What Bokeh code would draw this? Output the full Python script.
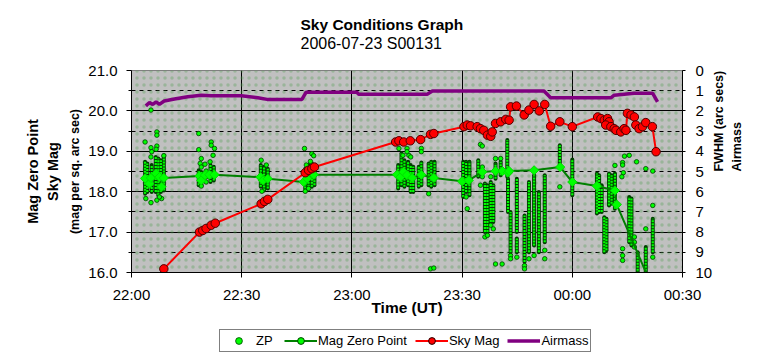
import numpy as np
from bokeh.plotting import figure
from bokeh.layouts import column
from bokeh.models import (Range1d, LinearAxis, FixedTicker, Legend, LegendItem, Label,
                          BoxAnnotation, NumeralTickFormatter)
from bokeh.embed import file_html
from bokeh.resources import INLINE

# ---- axis tick definitions (minutes after 22:00 UT) ----
TIME_TICKS = [0, 30, 60, 90, 120, 150]
TIME_LABELS = ["22:00", "22:30", "23:00", "23:30", "00:00", "00:30"]
LEFT_TICKS = [16, 17, 18, 19, 20, 21]
RIGHT_TICKS = [0, 1, 2, 3, 4, 5, 6, 7, 8, 9, 10]

# ---- ZP: isolated points (minutes after 22:00, mag) ----
ZP_T = [3.7, 5.3, 5.3, 5.5, 5.3, 6.9, 6.9, 6.9, 6.7, 8.8, 3.9, 5.3, 6.9, 8.2, 7.6,
        18.3, 18.3, 19.0, 18.7, 19.0, 19.0, 21.7, 21.7, 22.6, 22.2, 20.0, 20.3, 20.3, 21.4, 20.3,
        35.3, 36.7, 35.5,
        47.1, 49.1, 49.6, 47.6, 48.7, 47.3, 48.2,
        72.8, 73.9, 75.5, 75.0, 75.0, 76.0, 78.9, 78.9, 80.9, 81.4, 82.3,
        91.1, 91.4, 95.0, 95.5, 95.0, 95.5, 95.5, 95.5, 96.2, 96.9, 97.8, 97.8, 98.5, 99.1, 100.5,
        99.1, 100.9, 103.2, 103.2, 104.9, 107.0, 107.0, 108.2, 109.6,
        112.5, 112.5, 116.6, 131.6, 133.7, 133.7, 133.9, 133.5, 133.7, 133.7, 133.7, 135.5,
        136.9, 136.9, 136.9, 140.0, 140.0, 141.9, 141.9, 141.9, 137.5, 134.2]
ZP_V = [19.23, 20.02, 19.09, 18.99, 18.86, 19.48, 19.40, 19.13, 19.05, 18.89, 17.83, 17.73, 17.79, 17.83, 17.87,
        19.44, 19.04, 18.82, 18.70, 18.61, 18.14, 19.23, 19.15, 19.07, 18.90, 18.68, 18.51, 18.24, 18.74, 18.37,
        18.78, 18.66, 18.01,
        19.07, 18.94, 18.89, 18.66, 18.75, 18.01, 18.08,
        19.07, 18.90, 18.90, 19.07, 18.99, 18.86, 19.07, 18.99, 17.95, 16.09, 16.11,
        17.87, 17.58, 19.17, 19.13, 18.16, 18.61, 18.49, 18.37, 16.88, 16.92, 18.37, 17.17, 17.08, 18.82, 18.82,
        16.21, 16.21, 16.42, 16.34, 16.38, 16.17, 16.09, 16.34, 16.42,
        16.55, 16.34, 18.12, 18.65, 18.72, 18.66, 18.47, 18.37, 16.59, 16.42, 16.30, 18.90,
        16.88, 16.75, 16.63, 18.57, 17.08, 18.51, 17.66, 16.38, 18.74, 18.88]

# ---- ZP: dense vertical runs of points (time, lowest, highest) ----
ZP_RUN_T = [3.7, 4.3, 5.5, 6.6, 7.3, 8.0, 8.8,
            18.3, 19.0, 21.5, 22.4,
            35.2, 36.1, 37.1,
            47.3, 48.2, 49.1, 49.8,
            72.6, 73.5, 74.3, 75.3, 76.0, 76.7, 78.2, 78.9, 80.9, 81.6, 82.5,
            90.3, 91.1, 92.0,
            94.4, 96.2, 96.9, 97.8, 98.5, 99.1, 100.5, 102.3, 102.5, 103.2, 104.9, 104.9, 107.0, 108.2, 109.6, 110.9, 112.5,
            116.6, 120.0, 126.7, 127.3, 128.0, 128.7, 129.3, 130.0, 130.7, 131.6, 135.5, 136.1, 137.8, 140.0, 141.9]
ZP_RUN_LO = [17.95, 17.99, 17.99, 17.99, 17.91, 17.99, 18.03,
             18.16, 18.16, 18.24, 18.28,
             18.12, 18.03, 18.08,
             18.08, 18.12, 18.12, 18.16,
             18.08, 18.16, 18.12, 18.16, 17.99, 17.99, 18.12, 18.16, 18.16, 18.12, 18.16,
             17.87, 17.99, 17.91,
             18.37, 17.00, 17.00, 17.25, 17.25, 18.32, 18.41, 18.37, 17.50, 16.50, 17.00, 16.50, 16.26, 16.50, 16.67, 16.50, 16.75,
             18.66, 17.91, 17.46, 17.50, 17.50, 16.50, 16.55, 17.66, 17.70, 17.58, 16.75, 16.67, 15.97, 15.97, 16.50]
ZP_RUN_HI = [18.74, 18.70, 18.66, 18.86, 18.82, 18.78, 18.90,
             18.53, 18.49, 18.66, 18.62,
             18.66, 18.62, 18.57,
             18.57, 18.66, 18.70, 18.62,
             18.66, 18.95, 18.78, 18.74, 18.66, 18.62, 18.62, 18.72, 18.70, 18.74, 18.74,
             18.74, 18.74, 18.74,
             18.78, 18.20, 18.16, 18.24, 18.16, 18.70, 18.74, 19.28, 18.32, 17.50, 18.32, 16.84, 17.41, 18.24, 18.41, 17.99, 18.41,
             19.15, 18.80, 18.45, 18.41, 18.16, 17.37, 17.33, 18.45, 18.41, 18.45, 17.87, 17.83, 16.50, 16.63, 17.33]

# ---- Mag Zero Point ----
MZP_T = [3.7, 4.9, 5.3, 6.7, 7.6, 8.2, 8.8, 18.5, 19.0, 20.0, 21.2, 22.6, 35.1, 35.8, 37.1,
         46.9, 47.8, 49.6, 72.3, 73.2, 74.0, 75.0, 76.4, 78.9, 82.3, 90.0, 91.8, 95.5,
         99.1, 101.0, 102.5, 102.8, 109.6, 116.7, 120.0, 126.7, 131.6, 132.1, 141.0]
MZP_V = [18.33, 18.20, 18.34, 18.45, 18.36, 18.12, 18.34, 18.39, 18.28, 18.41, 18.42, 18.42, 18.36, 18.28, 18.32,
         18.24, 18.33, 18.42, 18.42, 18.36, 18.49, 18.41, 18.34, 18.42, 18.34, 18.26, 18.28, 18.49,
         18.51, 18.51, 18.47, 18.51, 18.53, 18.61, 18.24, 18.14, 18.03, 17.68, 15.80]

# ---- Sky Mag ----
SKY_T = [7.5, 8.8, 18.5, 19.4, 20.3, 21.7, 22.8, 35.3, 36.2, 37.1, 47.3, 48.2, 49.1, 49.8,
         71.9, 72.8, 74.1, 75.9, 78.7, 81.4, 82.3, 90.5, 91.4, 92.3, 94.1, 95.0, 95.9, 96.9, 97.8, 98.2,
         99.1, 100.5, 101.9, 102.8, 103.2, 104.8, 106.9, 108.2, 109.6, 111.0, 112.5, 114.1, 116.6, 120.0,
         126.9, 127.8, 128.7, 129.6, 130.0, 129.1, 130.5, 131.4, 131.9, 133.2, 134.1, 134.6,
         135.0, 136.0, 136.9, 137.3, 138.2, 139.1, 140.0, 141.8, 142.8]
SKY_V = [15.80, 16.09, 17.00, 17.04, 17.09, 17.17, 17.22, 17.70, 17.76, 17.81, 18.47, 18.53, 18.57, 18.61,
         19.23, 19.26, 19.23, 19.26, 19.29, 19.42, 19.44, 19.61, 19.65, 19.63, 19.61, 19.56, 19.52, 19.40, 19.37, 19.48,
         19.69, 19.73, 19.79, 19.77, 20.10, 20.12, 19.90, 20.02, 20.16, 20.00, 20.16, 19.62, 19.73, 19.61,
         19.85, 19.81, 19.77, 19.81, 19.73, 19.65, 19.61, 19.56, 19.52, 19.48, 19.56, 19.52,
         19.94, 19.90, 19.85, 19.65, 19.56, 19.61, 19.71, 19.61, 18.99]

# ---- Airmass (right axis) ----
AIR_T = [3.9, 4.9, 5.8, 6.7, 7.6, 8.9, 11.7, 15.3, 19.0, 21.7, 29.9, 34.4, 36.9, 46.4, 47.5,
         61.4, 61.8, 80.5, 81.9, 101.4, 112.3, 114.1, 130.5, 131.4, 136.8, 141.9, 143.2]
AIR_V = [1.75, 1.58, 1.68, 1.55, 1.68, 1.51, 1.41, 1.30, 1.22, 1.25, 1.25, 1.35, 1.43, 1.43, 1.08,
         1.08, 1.17, 1.17, 1.02, 1.02, 1.02, 1.35, 1.35, 1.22, 1.13, 1.13, 1.55]

FONT = "Liberation Sans"

# ---- title strip: its frame lines up with the chart's frame (pixel ranges) ----
tt = figure(width=763, height=60, output_backend="svg", toolbar_location=None, title=None,
            x_range=Range1d(0, 551), y_range=Range1d(0, 60),
            x_axis_location=None, y_axis_location=None, min_border=0,
            outline_line_color=None, background_fill_color="white", border_fill_color="white")
tt.grid.visible = False
tt.add_layout(Label(x=169, y=36, text="Sky Conditions Graph", text_align="left",
                    text_baseline="middle", text_font=FONT, text_font_size="15.5px",
                    text_font_style="bold", text_color="black"))
tt.add_layout(Label(x=169, y=17.5, text="2006-07-23 S00131", text_align="left",
                    text_baseline="middle", text_font=FONT, text_font_size="16px",
                    text_font_style="normal", text_color="black"))

p = figure(width=763, height=262, x_range=Range1d(0, 150), y_range=Range1d(16, 21),
           output_backend="svg", toolbar_location=None, title=None,
           min_border_left=131, min_border_right=81, min_border_top=10, min_border_bottom=50,
           background_fill_color="#C0C0C0", border_fill_color="white",
           outline_line_color="#808080")

# speckled plot area
p.add_layout(BoxAnnotation(left=0, right=150, bottom=16, top=21, fill_alpha=0, line_alpha=0,
                           hatch_pattern="dot", hatch_scale=7, hatch_weight=1,
                           hatch_color="#4f9f4f", hatch_alpha=0.35, level="underlay"))

# grids
p.xgrid.ticker = FixedTicker(ticks=TIME_TICKS[1:-1])
p.xgrid.grid_line_color = "black"
p.ygrid.ticker = FixedTicker(ticks=LEFT_TICKS[1:-1],
                             minor_ticks=[t + 0.5 for t in LEFT_TICKS[:-1]])
p.ygrid.grid_line_color = "black"
p.ygrid.minor_grid_line_color = "black"
p.ygrid.minor_grid_line_dash = "4 4"

# bottom axis
xa = p.xaxis[0]
xa.ticker = FixedTicker(ticks=TIME_TICKS)
xa.major_label_overrides = {t: lab for t, lab in zip(TIME_TICKS, TIME_LABELS)}
xa.major_tick_out = 5
xa.major_tick_in = 0
xa.minor_tick_out = 0
xa.major_label_standoff = 8
xa.axis_label = "Time (UT)"
xa.axis_label_standoff = -7
xa.axis_label_text_font_size = "15.5px"

# left axis
ya = p.yaxis[0]
ya.ticker = FixedTicker(ticks=LEFT_TICKS, minor_ticks=[t + 0.5 for t in LEFT_TICKS[:-1]])
ya.formatter = NumeralTickFormatter(format="0.0")
ya.major_tick_out = 5
ya.major_tick_in = 0
ya.minor_tick_out = 3
ya.minor_tick_in = 0
ya.major_label_standoff = 9
ya.axis_label = "(mag per sq. arc sec)"
ya.axis_label_standoff = 3
ya.axis_label_text_font_size = "12.5px"

# right axis
p.extra_y_ranges = {"air": Range1d(start=10, end=0)}
ra = LinearAxis(y_range_name="air", ticker=FixedTicker(ticks=RIGHT_TICKS))
ra.major_tick_out = 3
ra.major_tick_in = 0
ra.minor_tick_out = 0
ra.major_label_standoff = 10
ra.axis_label = "FWHM (arc secs)"
ra.axis_label_standoff = 4
ra.axis_label_text_font_size = "12.5px"
p.add_layout(ra, "right")


def label_axis(text, size, standoff, range_name="default"):
    return LinearAxis(y_range_name=range_name, ticker=FixedTicker(ticks=[]), axis_label=text,
                      axis_line_alpha=0, major_tick_line_alpha=0,
                      minor_tick_line_alpha=0, major_tick_out=0, minor_tick_out=0,
                      major_label_standoff=0, axis_label_standoff=standoff,
                      axis_label_text_font_size=size)


sky_ax = label_axis("Sky Mag", "14.5px", 5)
mzp_ax = label_axis("Mag Zero Point", "14.5px", 1)
p.add_layout(sky_ax, "left")
p.add_layout(mzp_ax, "left")
air_ax = label_axis("Airmass", "12.5px", 0, "air")
p.add_layout(air_ax, "right")

for ax in (xa, ya, ra, sky_ax, mzp_ax, air_ax):
    ax.axis_label_text_font = FONT
    ax.axis_label_text_font_style = "bold"
    ax.axis_label_text_color = "black"
for ax in (ra, air_ax):
    if "axis_label_orientation" in ax.properties():
        ax.axis_label_orientation = np.pi / 2
for ax in (xa, ya, ra):
    ax.axis_line_color = "black"
    ax.major_tick_line_color = "black"
    ax.minor_tick_line_color = "black"
    ax.major_label_text_font = FONT
    ax.major_label_text_font_size = "15px"
    ax.major_label_text_color = "black"

# ZP dense runs (drawn as chains of dots)
p.segment(x0=ZP_RUN_T, y0=ZP_RUN_LO, x1=ZP_RUN_T, y1=ZP_RUN_HI,
          line_color="#004000", line_width=4, line_cap="round")
p.segment(x0=ZP_RUN_T, y0=ZP_RUN_LO, x1=ZP_RUN_T, y1=ZP_RUN_HI,
          line_color="#00FF00", line_width=2.2, line_dash="2 1")
p.scatter(ZP_T, ZP_V, marker="circle", size=4.5, fill_color="#00FF00",
          line_color="#004000", line_width=0.8)

# Mag Zero Point
p.line(MZP_T, MZP_V, line_color="#008000", line_width=2)
p.scatter(MZP_T, MZP_V, marker="square", angle=np.pi / 4, size=6.5,
          fill_color="#00FF00", line_color="#00DD00")

# Sky Mag
p.line(SKY_T, SKY_V, line_color="#FF0000", line_width=2)
p.scatter(SKY_T, SKY_V, marker="circle", size=8.5, fill_color="#FF0000",
          line_color="#500000", line_width=1)

# Airmass
p.line(AIR_T, AIR_V, y_range_name="air", line_color="#800080", line_width=3.5)

# ---- legend strip: own small figure (its frame is aligned with the chart's frame) ----
# the same series are drawn here, but the ranges keep them out of view; only the legend shows
lg = figure(width=763, height=36, output_backend="svg", toolbar_location=None, title=None,
            x_range=Range1d(-1000, -999), y_range=Range1d(-1000, -999),
            x_axis_location=None, y_axis_location=None, min_border=0,
            outline_line_color=None, background_fill_color="white", border_fill_color="white")
lg.grid.visible = False
g_zp = lg.scatter(ZP_T, ZP_V, marker="circle", size=4, fill_color="#00FF00",
                  line_color="#004000", line_width=0.8)
g_mzp_l = lg.line(MZP_T, MZP_V, line_color="#008000", line_width=2)
g_mzp_m = lg.scatter(MZP_T, MZP_V, marker="circle", size=7, fill_color="#00FF00",
                     line_color="#004000")
g_sky_l = lg.line(SKY_T, SKY_V, line_color="#FF0000", line_width=2)
g_sky_m = lg.scatter(SKY_T, SKY_V, marker="circle", size=7, fill_color="#FF0000",
                     line_color="#200000", line_width=1)
g_air = lg.line(AIR_T, AIR_V, line_color="#800080", line_width=3.5)

legend = Legend(items=[
    LegendItem(label="ZP", renderers=[g_zp]),
    LegendItem(label="Mag Zero Point", renderers=[g_mzp_l, g_mzp_m]),
    LegendItem(label="Sky Mag", renderers=[g_sky_l, g_sky_m]),
    LegendItem(label="Airmass", renderers=[g_air]),
], orientation="horizontal", location=(88, 6), margin=0, padding=2, spacing=8,
    glyph_width=33, glyph_height=17, label_height=17, label_standoff=1,
    label_text_font=FONT, label_text_font_size="13px", label_text_color="black",
    border_line_color="black", border_line_width=1,
    background_fill_color="white", background_fill_alpha=1)
lg.add_layout(legend)

layout = column(tt, p, lg, spacing=0)
open("out.html", "w").write(file_html(layout, INLINE))
